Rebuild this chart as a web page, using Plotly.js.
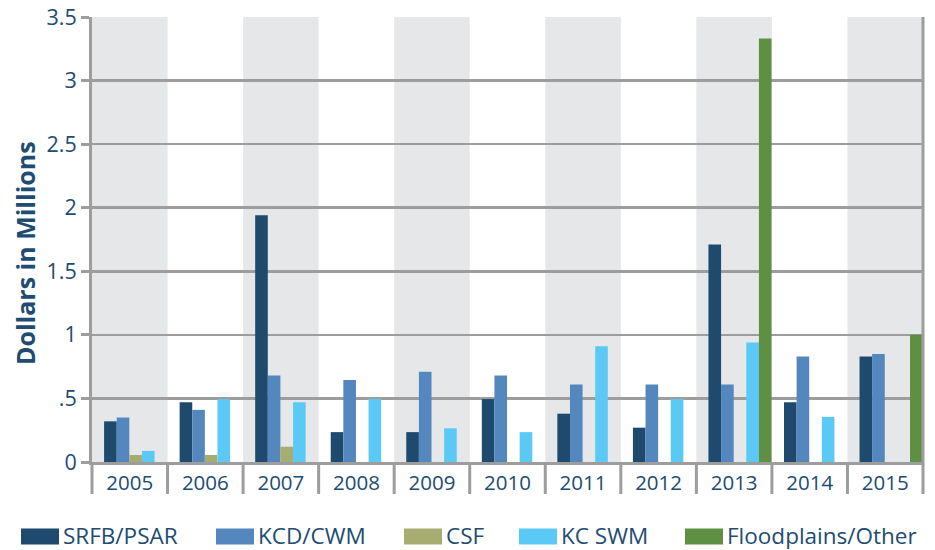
<!DOCTYPE html>
<html>
<head>
<meta charset="utf-8">
<script src="https://cdn.plot.ly/plotly-3.0.1.min.js"></script>
<style>
  body { margin: 0; background: #fff; }
  #myPlot { width: 935px; height: 550px; }
</style>
</head>
<body>
<div id="myPlot"></div>
<script>
// categories and series (millions of dollars)
var years = ['2005','2006','2007','2008','2009','2010','2011','2012','2013','2014','2015'];
var srfb   = [0.32, 0.47, 1.94, 0.235, 0.235, 0.495, 0.38, 0.27, 1.71, 0.47, 0.83];
var kcd    = [0.35, 0.41, 0.68, 0.645, 0.71, 0.68, 0.61, 0.61, 0.61, 0.83, 0.85];
var csf    = [0.055, 0.055, 0.12, null, null, null, null, null, null, null, null];
var kcswm  = [0.087, 0.495, 0.47, 0.495, 0.265, 0.235, 0.91, 0.495, 0.94, 0.355, null];
var flood  = [null, null, null, null, null, null, null, null, 3.33, null, 1.0];

var names  = ['SRFB/PSAR', 'KCD/CWM', 'CSF', 'KC SWM', 'Floodplains/Other'];
var colors = ['#1e4a6e', '#5487be', '#a7ad70', '#5bc9f5', '#5e8f43'];
var series = [srfb, kcd, csf, kcswm, flood];

var yTickVals = [0, 0.5, 1, 1.5, 2, 2.5, 3, 3.5];
var yTickText = ['0', '.5', '1', '1.5', '2', '2.5', '3', '3.5'];

var textColor = '#214c72';
var gridColor = '#9d9d9d';
var font = 'Open Sans, Noto Sans, sans-serif';

// bars sit a little right of centre in each year slot
var data = [];
var barW = 0.167;
for (var k = 0; k < series.length; k++) {
    data.push({
        type: 'bar',
        x: years,
        y: series[k],
        name: names[k],
        width: barW,
        offset: -0.34 + k * barW,
        marker: { color: colors[k] },
        showlegend: false
    });
}

// shading bands, year separators, right border
var shapes = [];
var n = years.length;
for (var i = 0; i < n; i++) {
    if (i % 2 === 0) {
        shapes.push({ type: 'rect', xref: 'paper', yref: 'paper', layer: 'below',
            x0: i / n, x1: (i + 1) / n, y0: 0, y1: 1,
            fillcolor: '#e6e7e9', line: { width: 0 } });
    }
}
var sepDrop = -32 / 445;
for (var i = 0; i <= n; i++) {
    shapes.push({ type: 'line', xref: 'paper', yref: 'paper', layer: 'above',
        x0: i / n, x1: i / n, y0: (i === n ? 1 : 0), y1: sepDrop,
        line: { color: gridColor, width: 3 } });
}

// legend drawn by hand so the swatches are wide blocks
var plotL = 92, plotW = 831, plotB = 462, plotH = 445;
var legSwatchX = [21, 216, 404, 519, 685];
var legY = 536.5;
var annotations = [];
for (var k = 0; k < names.length; k++) {
    shapes.push({ type: 'rect', xref: 'paper', yref: 'paper',
        x0: (legSwatchX[k] - plotL) / plotW, x1: (legSwatchX[k] + 38 - plotL) / plotW,
        y0: (plotB - (legY + 8)) / plotH, y1: (plotB - (legY - 8)) / plotH,
        fillcolor: colors[k], line: { width: 0 } });
    annotations.push({ xref: 'paper', yref: 'paper', showarrow: false,
        x: (legSwatchX[k] + 41 - plotL) / plotW, y: (plotB - (legY - 1.5)) / plotH,
        xanchor: 'left', yanchor: 'middle', borderpad: 0,
        text: names[k], font: { family: font, size: 22.5, color: textColor } });
}

// y title as an annotation: it sits lower than the plot's middle
annotations.push({ xref: 'paper', yref: 'paper', showarrow: false,
    x: (25 - plotL) / plotW, y: (plotB - 253) / plotH,
    xanchor: 'center', yanchor: 'middle', textangle: -90,
    text: 'Dollars in Millions',
    font: { family: font, size: 25, color: textColor, weight: 'bold' } });

var layout = {
    width: 935,
    height: 550,
    margin: { l: plotL, r: 935 - plotL - plotW, t: 17, b: 550 - plotB },
    paper_bgcolor: '#fff',
    plot_bgcolor: 'rgba(0,0,0,0)',
    barmode: 'overlay',
    font: { family: font, color: textColor },
    xaxis: {
        type: 'category',
        range: [-0.5, n - 0.5],
        showgrid: false,
        ticks: '',
        showline: true,
        linecolor: gridColor,
        linewidth: 3,
        tickfont: { size: 20.5, color: textColor },
        ticklabelstandoff: 0,
        fixedrange: true
    },
    yaxis: {
        range: [0, 3.5],
        tickvals: yTickVals,
        ticktext: yTickText,
        ticks: 'outside',
        ticklen: 8,
        tickwidth: 3,
        tickcolor: gridColor,
        showgrid: true,
        gridcolor: gridColor,
        gridwidth: 2.5,
        zeroline: false,
        showline: true,
        linecolor: gridColor,
        linewidth: 3,
        tickfont: { size: 21.5, color: textColor },
        fixedrange: true
    },
    shapes: shapes,
    annotations: annotations
};

Plotly.newPlot('myPlot', data, layout, { displayModeBar: false, staticPlot: true });
</script>
</body>
</html>
